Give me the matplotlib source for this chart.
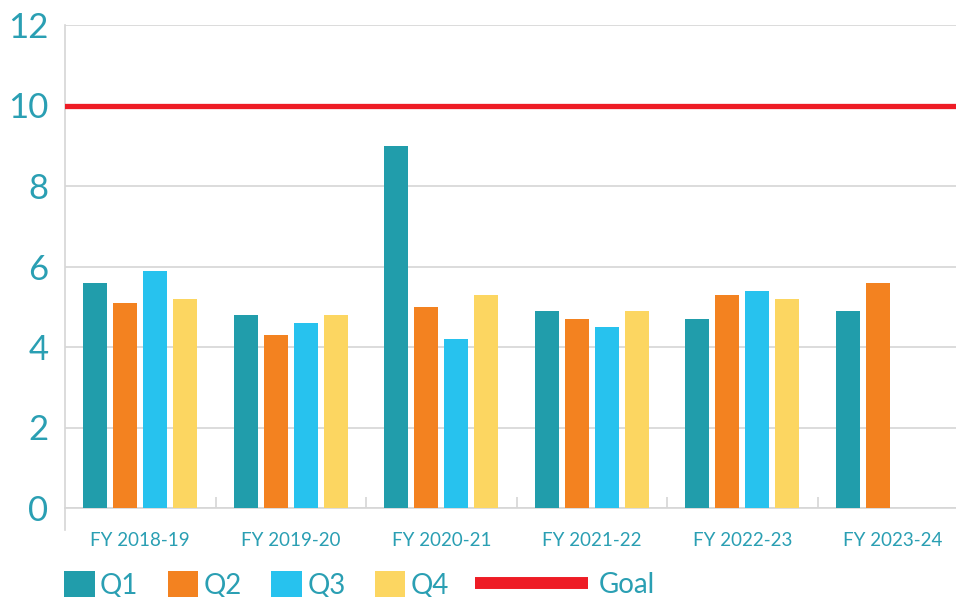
import matplotlib.pyplot as plt
import numpy as np
from matplotlib.patches import Patch
from matplotlib.lines import Line2D

plt.rcParams['font.family'] = ['Lato', 'DejaVu Sans']

# datos
years = ["FY 2018-19", "FY 2019-20", "FY 2020-21", "FY 2021-22", "FY 2022-23", "FY 2023-24"]
q1 = [5.6, 4.8, 9.0, 4.9, 4.7, 4.9]
q2 = [5.1, 4.3, 5.0, 4.7, 5.3, 5.6]
q3 = [5.9, 4.6, 4.2, 4.5, 5.4, np.nan]
q4 = [5.2, 4.8, 5.3, 4.9, 5.2, np.nan]
goal = 10

quarters = ["Q1", "Q2", "Q3", "Q4"]
colores = ["#219dab", "#f38220", "#27c2ee", "#fcd661"]
rojo = "#ee1c25"
texto = "#2a9fb3"

fig = plt.figure(figsize=(9.56, 5.97), dpi=100)
ax = fig.add_axes([65/956, 1 - 508/597, 903/956, 483/597])

x = np.arange(len(years))
paso = 0.2
ancho = 0.16
for i, serie in enumerate([q1, q2, q3, q4]):
    ax.bar(x + (i - 1.5) * paso, serie, width=ancho, color=colores[i], zorder=3)

ax.axhline(goal, color=rojo, lw=3.8, zorder=4)

ax.set_xlim(-0.5, len(years) - 0.5)
ax.set_ylim(0, 12)
ax.set_yticks(np.arange(0, 13, 2))
ax.yaxis.grid(True, color="#d6d6d6", lw=1.2, zorder=0)
ax.set_axisbelow(True)

for s in ["top", "right"]:
    ax.spines[s].set_visible(False)
ax.spines["bottom"].set_color("#d6d6d6")
ax.spines["bottom"].set_linewidth(1.2)
ax.spines["left"].set_visible(False)
ax.plot([0, 0], [-0.045, 1], transform=ax.transAxes, color="#d6d6d6",
        lw=1.2, clip_on=False, zorder=1)

ax.set_xticks(x)
ax.set_xticklabels(years)
ax.set_xticks(np.arange(0.5, len(years) - 1, 1), minor=True)
ax.tick_params(axis="x", which="major", length=0, pad=17, labelsize=13.5,
               labelcolor=texto)
ax.tick_params(axis="x", which="minor", length=8, direction="in",
               color="#d6d6d6", width=1.2)
ax.tick_params(axis="y", length=0, pad=12, labelsize=25, labelcolor=texto)

# leyenda
h_q = [Patch(facecolor=c, edgecolor="none") for c in colores]
leg1 = fig.legend(h_q, quarters, loc="center left",
                  bbox_to_anchor=(64/956, 1 - 585/597), ncol=4, frameon=False,
                  fontsize=20, handlelength=1.1, handleheight=1.1,
                  handletextpad=0.2, columnspacing=1.05, borderpad=0,
                  borderaxespad=0, labelcolor=texto)
h_g = [Line2D([0], [0], color=rojo, lw=8.6, solid_capstyle="butt")]
leg2 = fig.legend(h_g, ["Goal"], loc="center left",
                  bbox_to_anchor=(475/956, 1 - 585/597), frameon=False,
                  fontsize=20, handlelength=4.05, handletextpad=0.4,
                  borderpad=0, borderaxespad=0, labelcolor=texto)

fig.savefig("out.png", dpi=100)
